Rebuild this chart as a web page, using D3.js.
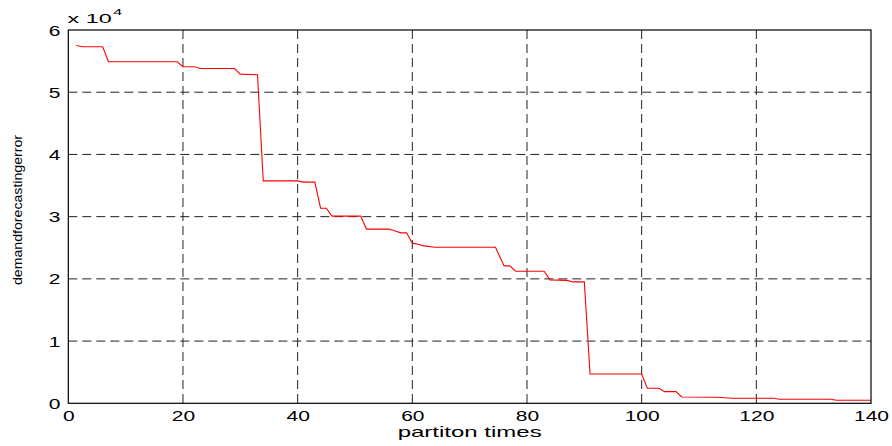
<!DOCTYPE html>
<html>
<head>
<meta charset="utf-8">
<script src="https://cdn.jsdelivr.net/npm/d3@7"></script>
<style>
  body { margin: 0; background: #fff; }
  text { font-family: Arial, "Liberation Sans", Helvetica, sans-serif; fill: #000; }
</style>
</head>
<body>
<div id="chart"></div>
<script>
// partition step -> demand forecasting error (in units of 1e4)
var steps  = [1.4, 2.5, 6, 7, 19, 20, 22, 23, 29, 30, 33, 34, 40, 41, 43, 44, 45, 46, 51, 52,
              56, 57, 58, 59, 60, 61, 62, 64, 74.5, 76, 77, 78, 83, 84, 87, 88, 90, 91, 100, 101,
              103, 104, 106, 107, 113, 116, 123, 124, 133, 134, 140];
var errors = [5.75, 5.73, 5.73, 5.49, 5.49, 5.41, 5.41, 5.38, 5.38, 5.29, 5.28, 3.575, 3.575, 3.555, 3.555, 3.136, 3.136, 3.008, 3.008, 2.80,
              2.80, 2.77, 2.74, 2.74, 2.574, 2.557, 2.53, 2.509, 2.509, 2.209, 2.209, 2.123, 2.123, 1.983, 1.975, 1.951, 1.951, 0.471, 0.471, 0.241,
              0.241, 0.187, 0.187, 0.101, 0.098, 0.080, 0.080, 0.064, 0.064, 0.048, 0.048];
var xTicks = [0, 20, 40, 60, 80, 100, 120, 140];
var yTicks = [0, 1, 2, 3, 4, 5, 6];

var w = 892, h = 446;
var plotL = 68.3, plotR = 871, plotT = 30, plotB = 403.3;
var stretch = 1.5; // labels in the picture are stretched sideways

var svg = d3.select("#chart")
  .append("svg")
  .attr("width", w)
  .attr("height", h);

svg.append("rect").attr("width", w).attr("height", h).attr("fill", "#fff");

var xScale = d3.scaleLinear().domain([0, 140]).range([plotL, plotR]);
var yScale = d3.scaleLinear().domain([0, 6]).range([plotB, plotT]);

// dashed grid
svg.append("g")
  .selectAll("line")
  .data(xTicks.slice(1, -1))
  .join("line")
  .attr("x1", d => xScale(d)).attr("x2", d => xScale(d))
  .attr("y1", plotT).attr("y2", plotB)
  .attr("stroke", "#222").attr("stroke-width", 1)
  .attr("stroke-dasharray", "9,5");

svg.append("g")
  .selectAll("line")
  .data(yTicks.slice(1, -1))
  .join("line")
  .attr("x1", plotL).attr("x2", plotR)
  .attr("y1", d => yScale(d)).attr("y2", d => yScale(d))
  .attr("stroke", "#222").attr("stroke-width", 1)
  .attr("stroke-dasharray", "9,5");

// the data line
var line = d3.line()
  .x((d, i) => xScale(steps[i]))
  .y(d => yScale(d));

svg.append("path")
  .datum(errors)
  .attr("d", line)
  .attr("fill", "none")
  .attr("stroke", "#ff0000")
  .attr("stroke-width", 1.1);

// frame
svg.append("rect")
  .attr("x", plotL).attr("y", plotT)
  .attr("width", plotR - plotL).attr("height", plotB - plotT)
  .attr("fill", "none").attr("stroke", "#000").attr("stroke-width", 1.2);

// axes
var xAxis = d3.axisBottom(xScale).tickValues(xTicks).tickSize(0).tickPadding(7.5);
var gx = svg.append("g")
  .attr("transform", "translate(0," + plotB + ")")
  .call(xAxis);
gx.select(".domain").remove();
gx.selectAll("text")
  .attr("font-size", 14)
  .attr("transform", "scale(" + stretch + ",1)");

var yAxis = d3.axisLeft(yScale).tickValues(yTicks).tickSize(0).tickFormat(d3.format("d"));
var gy = svg.append("g")
  .attr("transform", "translate(" + plotL + ",0)")
  .call(yAxis);
gy.select(".domain").remove();
gy.selectAll("text")
  .attr("font-size", 14)
  .attr("x", -8 / stretch)
  .attr("dy", "0.36em")
  .attr("transform", "scale(" + stretch + ",1)");

// exponent label
var expo = svg.append("g").attr("transform", "translate(67.5,22.7) scale(1.95,1)");
expo.append("text").attr("font-size", 12).text("x 10");
expo.append("text").attr("font-size", 8.5).attr("x", 23.4).attr("y", -7.6).text("4");

// axis titles
svg.append("text")
  .attr("transform", "translate(" + ((plotL + plotR) / 2) + ",437) scale(1.6,1)")
  .attr("text-anchor", "middle")
  .attr("font-size", 15)
  .text("partiton times");

svg.append("text")
  .attr("transform", "translate(21.5,210) rotate(-90)")
  .attr("text-anchor", "middle")
  .attr("font-size", 13)
  .attr("textLength", 150)
  .attr("lengthAdjust", "spacingAndGlyphs")
  .text("demandforecastingerror");
</script>
</body>
</html>
